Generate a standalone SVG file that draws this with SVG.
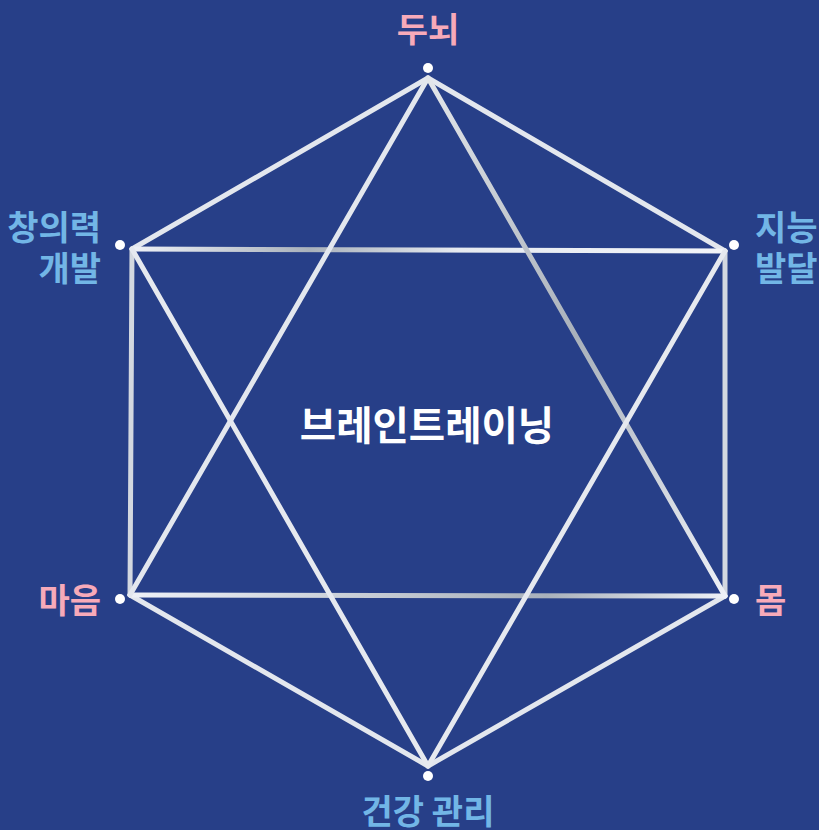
<svg xmlns="http://www.w3.org/2000/svg" width="819" height="830" viewBox="0 0 819 830">
<style>
.ln{fill:none;stroke-width:5;stroke-linecap:round}
.dot{fill:#ffffff}
.lbl{font-family:"Noto Sans CJK KR","Noto Sans",sans-serif;font-weight:700;font-size:34px}
.pink{fill:#f7aab9}
.blue{fill:#72b6e6}
.center{font-family:"Noto Sans CJK KR","Noto Sans",sans-serif;font-weight:700;font-size:39.5px;fill:#ffffff}
</style>
<defs>
<linearGradient id="g" x1="0" y1="0" x2="1" y2="0">
<stop offset="0" stop-color="#eef1f7"/>
<stop offset="0.3" stop-color="#a9b1bb"/>
<stop offset="0.55" stop-color="#e6eaf0"/>
<stop offset="1" stop-color="#f2f4f8"/>
</linearGradient>
<linearGradient id="gd" gradientUnits="userSpaceOnUse" x1="428" y1="78" x2="725" y2="596">
<stop offset="0" stop-color="#e3e6ea"/>
<stop offset="0.5" stop-color="#a9b1bb"/>
<stop offset="1" stop-color="#eef1f7"/>
</linearGradient>
<linearGradient id="gh" gradientUnits="userSpaceOnUse" x1="130" y1="595" x2="725" y2="596">
<stop offset="0" stop-color="#eef1f7"/>
<stop offset="0.7" stop-color="#a9b1bb"/>
<stop offset="1" stop-color="#eef1f7"/>
</linearGradient>
</defs>
<rect width="819" height="830" fill="#273f88"/>
<g id="connectors">
<line class="ln" x1="428" y1="78" x2="132" y2="249" stroke="#e3e7ee"/>
<line class="ln" x1="428" y1="78" x2="725" y2="251" stroke="#e3e7ee"/>
<line class="ln" x1="132" y1="249" x2="130" y2="595" stroke="#d3d8e0"/>
<line class="ln" x1="725" y1="251" x2="725" y2="596" stroke="#d3d8e0"/>
<line class="ln" x1="130" y1="595" x2="428" y2="766" stroke="#e3e7ee"/>
<line class="ln" x1="725" y1="596" x2="428" y2="766" stroke="#e3e7ee"/>
<line class="ln" x1="132" y1="249" x2="725" y2="251" stroke="url(#g)"/>
<line class="ln" x1="130" y1="595" x2="725" y2="596" stroke="url(#gh)"/>
<line class="ln" x1="428" y1="78" x2="130" y2="595" stroke="#e3e7ee"/>
<line class="ln" x1="428" y1="78" x2="725" y2="596" stroke="url(#gd)"/>
<line class="ln" x1="132" y1="249" x2="428" y2="766" stroke="#e6e9ef"/>
<line class="ln" x1="725" y1="251" x2="428" y2="766" stroke="#e6e9ef"/>
</g>
<g id="n-top"><circle class="dot" cx="428" cy="68" r="5"/><text class="lbl pink" x="428" y="42" text-anchor="middle">두뇌</text></g>
<g id="n-ul"><circle class="dot" cx="120" cy="245" r="5"/><text class="lbl blue" x="101" y="240" text-anchor="end">창의력</text><text class="lbl blue" x="101" y="281" text-anchor="end">개발</text></g>
<g id="n-ur"><circle class="dot" cx="734" cy="245" r="5"/><text class="lbl blue" x="755" y="240">지능</text><text class="lbl blue" x="755" y="281">발달</text></g>
<g id="n-ll"><circle class="dot" cx="120" cy="599" r="5"/><text class="lbl pink" x="101" y="613" text-anchor="end">마음</text></g>
<g id="n-lr"><circle class="dot" cx="734" cy="599" r="5"/><text class="lbl pink" x="755" y="613">몸</text></g>
<g id="n-bottom"><circle class="dot" cx="428" cy="776" r="5"/><text class="lbl blue" x="428" y="824" text-anchor="middle">건강 관리</text></g>
<g id="n-center"><text class="center" x="427" y="440" text-anchor="middle">브레인트레이닝</text></g>
</svg>
